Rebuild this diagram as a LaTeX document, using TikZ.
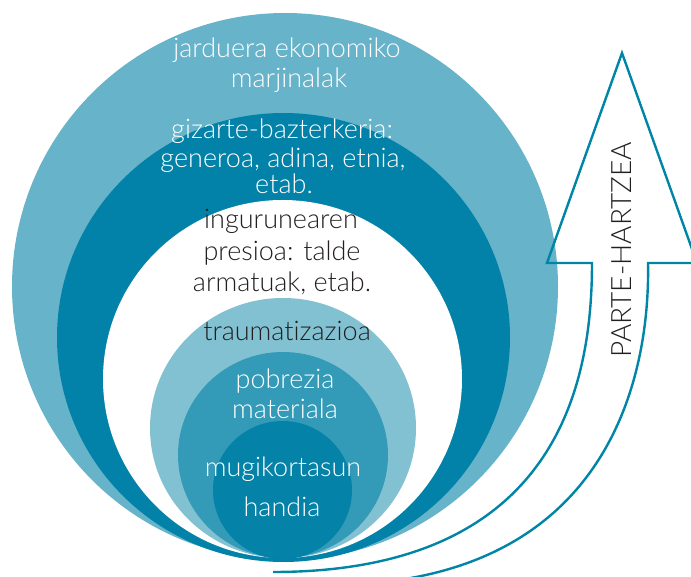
\documentclass[tikz,border=0pt]{standalone}
\usepackage{fontspec}
\IfFontExistsTF{Lato Light}{\setmainfont{Lato Light}[Ligatures=NoCommon]}{\setmainfont{Lato}[Ligatures=NoCommon]}
\definecolor{outerL}{RGB}{103,179,201}
\definecolor{darkB}{RGB}{2,130,168}
\definecolor{lightIn}{RGB}{130,193,210}
\definecolor{medIn}{RGB}{51,154,183}
\definecolor{darkIn}{RGB}{4,130,168}
\definecolor{arrowC}{RGB}{0,133,166}
\definecolor{txtD}{RGB}{35,31,32}
\begin{document}
\begin{tikzpicture}[x=1pt,y=-1pt,
  lbl/.style={inner sep=0pt,anchor=mid,font=\fontsize{27}{30}\selectfont},
  wlbl/.style={lbl,text=white},
  dlbl/.style={lbl,text=txtD},
  arrowline/.style={draw=arrowC,line width=2.4pt,line join=miter}]
\useasboundingbox (0,0) rectangle (691,577);
% nested shapes
\fill[outerL] (285,286.5) ellipse [x radius=273pt, y radius=273.5pt];
\fill[darkB] (283.5,337.5) ellipse [x radius=226.5pt, y radius=224.5pt];
\fill[white] (282.5,379) ellipse [x radius=179.5pt, y radius=179pt];
\fill[lightIn] (283,428) ellipse [x radius=133pt, y radius=130pt];
\fill[medIn] (283,455) ellipse [x radius=105pt, y radius=103pt];
\fill[darkIn] (282.5,490) ellipse [x radius=69.5pt, y radius=69pt];
% arrow
\coordinate (innerEnd) at (273,572);
\coordinate (outerEnd) at (360,584);
\coordinate (tip) at (622,53);
\draw[arrowline] (innerEnd) .. controls (560,572) and (592,380) .. (592,263)
  -- (547,263) -- (tip) -- (697,263) -- (648,263)
  .. controls (650,360) and (620,568) .. (outerEnd);
% labels
\node[wlbl] (l1) at (287,55) {jarduera ekonomiko};
\node[wlbl] (l2) at (289,85) {marjinalak};
\node[wlbl] (l3) at (282,136) {gizarte-bazterkeria:};
\node[wlbl] (l4) at (283,165) {generoa, adina, etnia,};
\node[wlbl] (l5) at (284,191) {etab.};
\node[dlbl] (l6) at (281,226) {ingurunearen};
\node[dlbl] (l7) at (282,258) {presioa: talde};
\node[dlbl] (l8) at (282,289) {armatuak, etab.};
\node[dlbl] (l9) at (287,338) {traumatizazioa};
\node[wlbl] (l10) at (285,386) {pobrezia};
\node[wlbl] (l11) at (285,416) {materiala};
\node[wlbl] (l12) at (283,474) {mugikortasun};
\node[wlbl] (l13) at (282,514) {handia};
\node[dlbl,anchor=center,rotate=90,font=\fontsize{28}{30}\selectfont] (pt) at (622,250) {PARTE-HARTZEA};
\end{tikzpicture}
\end{document}
